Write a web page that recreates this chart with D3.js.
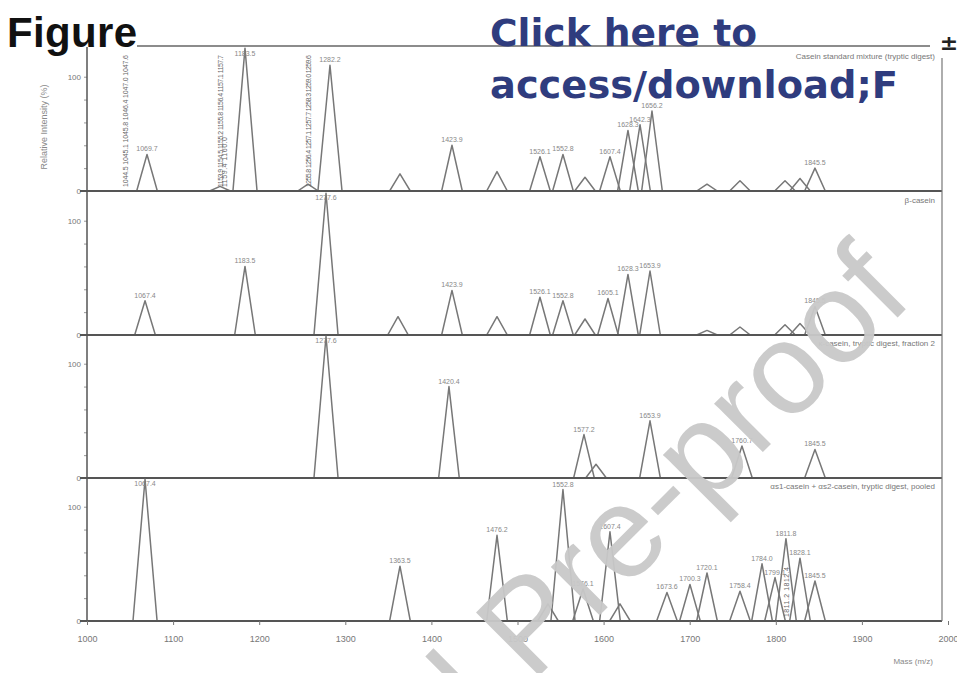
<!DOCTYPE html>
<html>
<head>
<meta charset="utf-8">
<script src="https://cdn.jsdelivr.net/npm/d3@7"></script>
<style>
  body { margin: 0; background: #fff; }
  svg { display: block; }
  text { font-family: "Liberation Sans", Arial, sans-serif; }
</style>
</head>
<body>
<div id="chart"></div>
<script>
const width = 957, height = 673;

// m/z axis
const mzTicks = [1000, 1100, 1200, 1300, 1400, 1500, 1600, 1700, 1800, 1900, 2000];
const xTitle = "Mass (m/z)";
const yTitle = "Relative Intensity (%)";

// panel names (top right of each spectrum)
const panelNames = [
  "Casein standard mixture (tryptic digest)",
  "\u03b2-casein",
  "\u03ba-casein, tryptic digest, fraction 2",
  "\u03b1s1-casein + \u03b1s2-casein, tryptic digest, pooled"
];

// peaks: [m/z, relative intensity %]
const peaksA = [
  [1069.7, 32], [1154.5, 4], [1183.5, 125], [1256.7, 6], [1282.2, 110],
  [1363.5, 15], [1423.9, 40], [1476.2, 17], [1526.1, 30], [1552.8, 32],
  [1578.4, 12], [1607.4, 30], [1628.3, 53], [1642.3, 58], [1656.2, 70],
  [1720.1, 6], [1758.4, 9], [1810.7, 9], [1828.1, 11], [1845.5, 20]
];
const peaksB = [
  [1067.4, 30], [1183.5, 60], [1277.6, 124], [1361.2, 16], [1423.9, 39],
  [1476.2, 16], [1526.1, 33], [1552.8, 30], [1578.4, 14], [1605.1, 32],
  [1628.3, 53], [1653.9, 56], [1720.1, 4], [1758.4, 7], [1810.7, 9],
  [1828.1, 10], [1845.5, 25]
];
const peaksC = [
  [1277.6, 124], [1420.4, 80], [1577.2, 38], [1591.2, 12], [1653.9, 50],
  [1760.7, 28], [1845.5, 25]
];
const peaksD = [
  [1067.4, 124], [1363.5, 48], [1476.2, 75], [1535.4, 15], [1552.8, 115],
  [1576.1, 28], [1607.4, 78], [1619.0, 15], [1673.6, 25], [1700.3, 32],
  [1720.1, 42], [1758.4, 26], [1784.0, 50], [1799.1, 38], [1811.8, 72],
  [1828.1, 55], [1845.5, 35]
];

// stacked annotations over crowded peaks
const stacksA = [
  { mz: 1044.2, labels: ["1044.5", "1045.1", "1045.8", "1046.4", "1047.0", "1047.6"] },
  { mz: 1154.5, labels: ["1153.9", "1154.5", "1155.2", "1155.8", "1156.4", "1157.1", "1157.7"] },
  { mz: 1159.5, labels: ["1159.4", "1160.0"] },
  { mz: 1256.7, labels: ["1255.8", "1256.4", "1257.1", "1257.7", "1258.3", "1259.0", "1259.6"] }
];
const stacksD = [
  { mz: 1811.8, labels: ["1811.2", "1812.4"] }
];

const panelData = [
  { peaks: peaksA, stacks: stacksA },
  { peaks: peaksB, stacks: [] },
  { peaks: peaksC, stacks: [] },
  { peaks: peaksD, stacks: stacksD }
];

const tops = [47, 191, 334, 477];
const panelH = 144;
const left = 87, right = 942;

const svg = d3.select("#chart").append("svg")
  .attr("width", width)
  .attr("height", height);

const x = d3.scaleLinear().domain([1000, 2000]).range([87, 948]);

const defs = svg.append("defs");

panelData.forEach((p, i) => {
  const top = tops[i], bottom = top + panelH;
  const y = d3.scaleLinear().domain([0, 126]).range([bottom, top]);

  defs.append("clipPath").attr("id", "clip" + i)
    .append("rect")
    .attr("x", left).attr("y", top)
    .attr("width", right - left).attr("height", panelH);

  const g = svg.append("g");

  // y ticks
  g.append("g")
    .attr("transform", `translate(${left},0)`)
    .call(d3.axisLeft(y).tickValues([0, 20, 40, 60, 80, 100]).tickSize(3)
      .tickFormat(d => (d === 0 || d === 100) ? d : ""))
    .call(a => a.select(".domain").remove())
    .call(a => a.selectAll("line").attr("stroke", "#999"))
    .call(a => a.selectAll("text").attr("fill", "#777").style("font-size", "8px"));

  const line = d3.line().x(d => x(d[0])).y(d => y(d[1]));
  const plot = g.append("g").attr("clip-path", `url(#clip${i})`);

  // one triangle per peak
  plot.selectAll("path.peak")
    .data(p.peaks)
    .enter().append("path")
    .attr("class", "peak")
    .attr("d", ([m, h]) => {
      const hw = h > 90 ? 14 : 12;
      return line([[m - hw, 0], [m, h], [m + hw, 0]]);
    })
    .attr("fill", "none")
    .attr("stroke", "#777")
    .attr("stroke-width", 1.5)
    .attr("stroke-linejoin", "round");

  // peak labels
  plot.selectAll("text.pk")
    .data(p.peaks.filter(d => d[1] >= 20))
    .enter().append("text")
    .attr("class", "pk")
    .attr("x", d => x(d[0]))
    .attr("y", d => Math.max(y(d[1]) - 3, top + 9))
    .attr("text-anchor", "middle")
    .attr("fill", "#888")
    .style("font-size", "7px")
    .text(d => d[0].toFixed(1));

  // stacked labels (vertical)
  p.stacks.forEach(s => {
    const sx = x(s.mz);
    plot.append("text")
      .attr("transform", `translate(${sx + 3},${bottom - 4}) rotate(-90)`)
      .attr("fill", "#666")
      .style("font-size", "7px")
      .attr("textLength", s.labels.length > 3 ? panelH - 12 : 50)
      .text(s.labels.join("  "));
  });

  // panel name
  g.append("text")
    .attr("x", 935)
    .attr("y", top + 12)
    .attr("text-anchor", "end")
    .attr("fill", "#777")
    .style("font-size", "8px")
    .text(panelNames[i]);

  // baseline
  g.append("line")
    .attr("x1", 80).attr("x2", right)
    .attr("y1", bottom).attr("y2", bottom)
    .attr("stroke", "#555").attr("stroke-width", 2);
});

// frame
svg.append("line")
  .attr("x1", left).attr("x2", left).attr("y1", 47).attr("y2", tops[3] + panelH)
  .attr("stroke", "#555").attr("stroke-width", 1.5);
svg.append("line")
  .attr("x1", right).attr("x2", right).attr("y1", 58).attr("y2", tops[3] + panelH)
  .attr("stroke", "#777").attr("stroke-width", 1.2);
svg.append("line")
  .attr("x1", 137).attr("x2", 930).attr("y1", 46).attr("y2", 46)
  .attr("stroke", "#666").attr("stroke-width", 1.6);

// x axis
svg.append("g")
  .attr("transform", `translate(0,${tops[3] + panelH})`)
  .call(d3.axisBottom(x).tickValues(mzTicks).tickSize(4).tickFormat(d3.format("d")))
  .call(a => a.select(".domain").remove())
  .call(a => a.selectAll("line").attr("stroke", "#777"))
  .call(a => a.selectAll("text").attr("fill", "#777").attr("dy", "1.5em").style("font-size", "9px"));

svg.append("text")
  .attr("x", 933).attr("y", 664)
  .attr("text-anchor", "end")
  .attr("fill", "#888")
  .style("font-size", "8px")
  .text(xTitle);

svg.append("text")
  .attr("transform", `translate(47,${tops[0] + panelH / 2 + 8}) rotate(-90)`)
  .attr("text-anchor", "middle")
  .attr("fill", "#888")
  .style("font-size", "9px")
  .text(yTitle);

// header
svg.append("text")
  .attr("x", 7).attr("y", 47)
  .attr("fill", "#111")
  .style("font-size", "42px")
  .style("font-weight", "bold")
  .attr("textLength", 130)
  .text("Figure");

svg.append("text")
  .attr("x", 490).attr("y", 46)
  .attr("fill", "#2f3c7e")
  .style("font-family", "'DejaVu Sans', sans-serif")
  .style("font-size", "37px")
  .style("font-weight", "bold")
  .attr("textLength", 267)
  .attr("lengthAdjust", "spacingAndGlyphs")
  .text("Click here to");

svg.append("text")
  .attr("x", 490).attr("y", 98)
  .attr("fill", "#2f3c7e")
  .style("font-family", "'DejaVu Sans', sans-serif")
  .style("font-size", "37px")
  .style("font-weight", "bold")
  .attr("textLength", 408)
  .attr("lengthAdjust", "spacingAndGlyphs")
  .text("access/download;F");

svg.append("text")
  .attr("x", 949).attr("y", 50)
  .attr("text-anchor", "middle")
  .attr("fill", "#222")
  .style("font-family", "'DejaVu Sans', sans-serif")
  .style("font-size", "22px")
  .style("font-weight", "bold")
  .text("\u00b1");

// watermark
svg.append("text")
  .attr("transform", "translate(915,300) rotate(-45)")
  .attr("text-anchor", "end")
  .attr("fill", "#c9c9c9")
  .attr("opacity", 0.95)
  .style("font-size", "130px")
  .text("Journal Pre-proof");
</script>
</body>
</html>
